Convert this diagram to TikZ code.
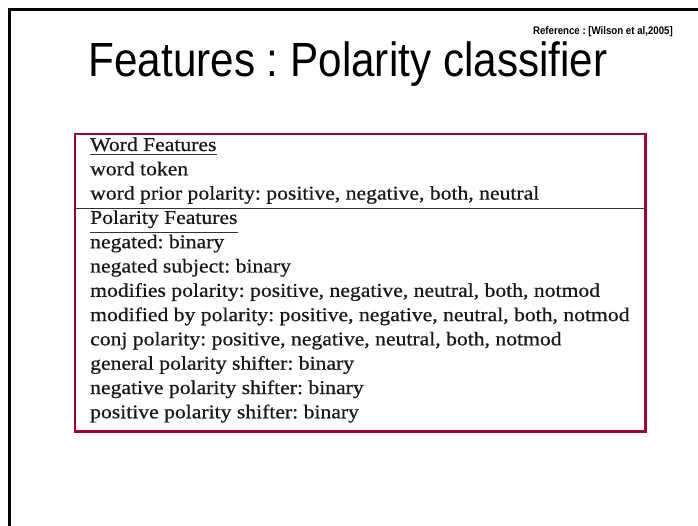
\documentclass[tikz,border=0pt]{standalone}
\usepackage{fontspec}
\setmainfont[FakeStretch=1.11, FakeBold=0.7]{Liberation Serif}
\newfontfamily\titlefont[FakeStretch=0.88]{Liberation Sans}
\usetikzlibrary{positioning}
\frenchspacing

\definecolor{boxred}{RGB}{160,0,56}

\tikzset{
  feat/.style={anchor=base west, inner sep=0pt, text=black!90, font=\fontsize{19.5}{19.5}\selectfont},
  underrule/.style={line width=1pt, black!80},
  seprule/.style={line width=1.3pt, black!80},
  redbox/.style={draw=boxred, line width=2.5pt, minimum width=570.5pt, minimum height=297.5pt, inner sep=0pt}
}

\begin{document}
\begin{tikzpicture}[x=1pt, y=-1pt]
      \useasboundingbox (0,0) rectangle (698,526);
      \draw[line width=3pt] (9.5,526) -- (9.5,9.5) -- (698,9.5);

      \node [anchor=base east, inner sep=0pt, font=\titlefont\bfseries\fontsize{11}{11}\selectfont] (ref) at (673,35) {Reference : [Wilson et al,2005]};
      \node [anchor=base, inner sep=0pt, font=\titlefont\fontsize{48}{48}\selectfont] (title) at (348,77) {Features : Polarity classifier};

      \node [redbox] (box) at (360.25,282.75) {};

      \node [feat] (wordfeat) at (90,151) {Word Features};
      \node [feat] (wordtok) at (90,175.3) {word token};
      \node [feat] (wordprior) at (90,199.6) {word prior polarity: positive, negative, both, neutral};
      \node [feat] (polfeat) at (90,223.9) {Polarity Features};
      \node [feat] (negated) at (90,248.2) {negated: binary};
      \node [feat] (negsubj) at (90,272.5) {negated subject: binary};
      \node [feat] (modifies) at (90,296.8) {modifies polarity: positive, negative, neutral, both, notmod};
      \node [feat] (modified) at (90,321.1) {modified by polarity: positive, negative, neutral, both, notmod};
      \node [feat] (conj) at (90,345.4) {conj polarity: positive, negative, neutral, both, notmod};
      \node [feat] (general) at (90,369.7) {general polarity shifter: binary};
      \node [feat] (negshift) at (90,394) {negative polarity shifter: binary};
      \node [feat] (posshift) at (90,418.3) {positive polarity shifter: binary};

      % header rules
      \draw [underrule] ([yshift=-4pt]wordfeat.base west) -- ([yshift=-4pt]wordfeat.base east);
      \draw [underrule] ([yshift=-9pt]polfeat.base west) -- ([yshift=-9pt]polfeat.base east);
      \draw [seprule] (box.west |- 0,208.7) -- (box.east |- 0,208.7);

\end{tikzpicture}
\end{document}
